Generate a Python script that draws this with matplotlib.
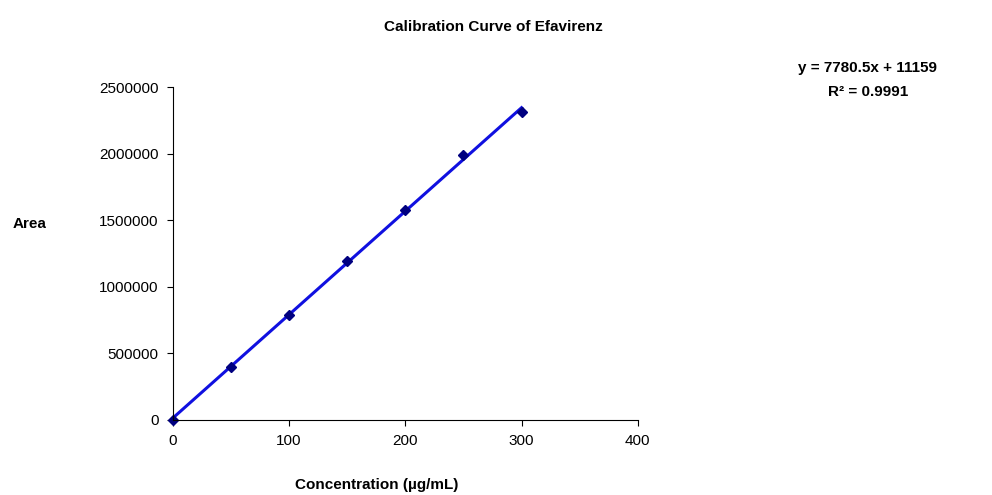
import matplotlib
matplotlib.use("Agg")
import matplotlib.pyplot as plt
import numpy as np

conc = [0, 50, 100, 150, 200, 250, 300]
area = [0, 400000, 790000, 1190000, 1575000, 1990000, 2310000]
slope, intercept = 7780.5, 11159

plt.rcParams['font.family'] = ['Liberation Sans', 'DejaVu Sans']
fig = plt.figure(figsize=(9.92, 4.95), dpi=100)
ax = fig.add_axes([0.174, 0.152, 0.469, 0.672])
xs = np.array([conc[0], conc[-1]])
ax.plot(xs, slope * xs + intercept, color='#1010e0', lw=2.2)
ax.plot(conc, area, 'D', color='#000080', ms=5, clip_on=False)
ax.set_xlim(0, 400)
ax.set_ylim(0, 2500000)
ax.set_xticks([0, 100, 200, 300, 400])
ax.set_yticks(range(0, 2500001, 500000))
ax.tick_params(labelsize=11, direction='out', length=4, pad=6)
for s in ['top', 'right']:
    ax.spines[s].set_visible(False)
ax.ticklabel_format(style='plain', axis='y')
fig.text(0.497, 0.945, 'Calibration Curve of Efavirenz', ha='center', va='center', fontsize=11, fontweight='bold')
fig.text(0.38, 0.02, 'Concentration (µg/mL)', ha='center', va='center', fontsize=11, fontweight='bold')
fig.text(0.013, 0.548, 'Area', ha='left', va='center', fontsize=11, fontweight='bold')
fig.text(0.875, 0.862, 'y = 7780.5x + 11159', ha='center', va='center', fontsize=11, fontweight='bold')
fig.text(0.875, 0.815, 'R² = 0.9991', ha='center', va='center', fontsize=11, fontweight='bold')
fig.savefig('out.png', dpi=100)
